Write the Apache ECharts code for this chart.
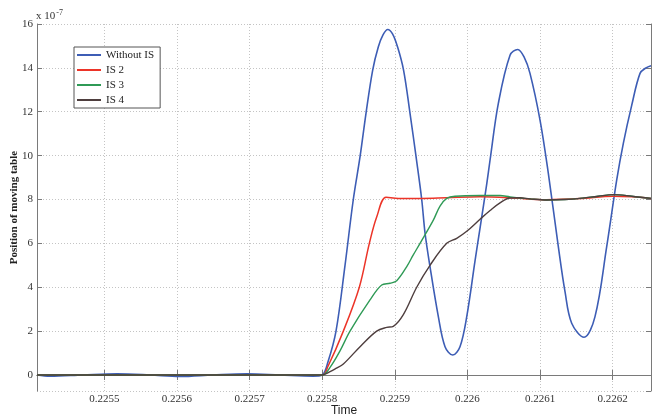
<!DOCTYPE html>
<html>
<head>
<meta charset="utf-8">
<script src="https://cdn.jsdelivr.net/npm/echarts@6/dist/echarts.min.js"></script>
<style>
html,body{margin:0;padding:0;background:#fff;}
#c{width:662px;height:418px;}
</style>
</head>
<body>
<div id="c"></div>
<script>
// Time axis range and values (position in units of 1e-7)
const xMin = 0.2254073, xMax = 0.2262527;
const yMin = -0.73, yMax = 16;
const seriesNames = ['Without IS', 'IS 2', 'IS 3', 'IS 4'];

const blueTime = [0.2254073,0.2254252,0.2254707,0.2255175,0.2255629,0.2256042,0.2256497,0.2256965,0.2257419,0.2257874,0.2258,
  0.225808,0.2258190,0.2258314,0.2258428,0.2258521,0.2258603,0.2258695,0.2258773,0.2258837,0.2258902,0.2258968,0.2259037,
  0.2259120,0.2259209,0.2259292,0.2259370,0.2259416,0.2259484,0.2259599,0.2259691,0.2259797,0.2259897,0.2259990,0.2260104,
  0.2260173,0.2260265,0.2260311,0.2260425,0.2260586,0.2260692,0.2260779,0.2260861,0.2260999,0.2261113,0.2261251,0.2261343,
  0.2261435,0.2261605,0.2261756,0.2261917,0.2262055,0.2262146,0.2262262,0.2262376,0.2262458,0.2262527];
const blueValue = [0,-0.06,0,0.05,0,-0.07,0,0.05,0,-0.05,0,
  0.6,2.0,5.0,8.0,9.95,11.93,13.9,14.96,15.5,15.75,15.55,14.96,
  13.9,11.93,9.95,8.0,6.46,4.94,2.66,1.29,0.91,1.29,2.66,5.2,
  6.7,8.7,9.8,12.38,14.58,14.84,14.5,13.75,11.62,9.2,5.85,3.8,
  2.36,1.72,2.66,5.85,8.89,10.56,12.3,13.75,14.0,14.1];

const redTime = [0.2254073,0.2258,0.225808,0.2258291,0.2258511,0.2258649,0.2258750,0.2258879,0.2259048,0.2259370,0.2259714,
  0.2260173,0.2260586,0.2261091,0.2261549,0.2262008,0.2262262,0.2262527];
const redValue = [0,0,0.4,2.0,4.0,6.0,7.2,8.1,8.05,8.05,8.08,
  8.12,8.08,7.99,8.04,8.15,8.12,8.05];

const greenTime = [0.2254073,0.2258,0.2258108,0.2258245,0.2258383,0.2258658,0.2258819,0.2258934,0.2259026,0.2259164,0.2259250,
  0.2259347,0.2259530,0.2259622,0.2259714,0.2259829,0.2260173,0.2260448,0.2260586,0.2260861,0.2261091,0.2261343,0.2261549,
  0.2261800,0.2262008,0.2262262,0.2262527];
const greenValue = [0,0,0.35,1.1,2.0,3.42,4.1,4.18,4.3,4.94,5.45,
  6.0,7.06,7.7,8.05,8.15,8.18,8.18,8.12,8.03,7.98,8.0,8.05,
  8.15,8.22,8.15,8.05];

const blackTime = [0.2254073,0.2258,0.2258108,0.2258190,0.2258291,0.2258521,0.2258750,0.2258888,0.2258979,0.2259117,0.2259301,
  0.2259484,0.2259714,0.2259852,0.2259990,0.2260173,0.2260311,0.2260448,0.2260586,0.2260724,0.2260861,0.2261091,0.2261343,
  0.2261549,0.2261800,0.2262008,0.2262262,0.2262527];
const blackValue = [0,0,0.15,0.3,0.5,1.29,2.0,2.17,2.22,2.75,4.0,
  5.0,6.0,6.23,6.55,7.1,7.5,7.85,8.07,8.08,8.03,7.98,8.0,
  8.05,8.15,8.22,8.15,8.05];

const zip = (t, v) => t.map((x, i) => [x, v[i]]);
const serif = '"Liberation Serif","DejaVu Serif",serif';
const sans = '"Liberation Sans",Arial,sans-serif';
const frame = '#7a7a7a';
const gridLine = {show: true, lineStyle: {color: '#c4c4c4', type: [1, 2], width: 1}};

const chart = echarts.init(document.getElementById('c'), null, {renderer: 'canvas'});
const baseX = {type: 'value', min: xMin, max: xMax, splitNumber: 8};
const baseY = {type: 'value', min: yMin, max: yMax, splitNumber: 8};
const lineSeries = (name, t, v, color, w) => ({
  name, type: 'line', data: zip(t, v), showSymbol: false, smooth: 0.35,
  color, lineStyle: {width: w, color}
});
chart.setOption({
  animation: false,
  backgroundColor: '#fff',
  grid: {left: 37, right: 11, top: 24, bottom: 27, containLabel: false, outerBoundsMode: 'none'},
  legend: {
    data: seriesNames, orient: 'vertical', left: 74, top: 47,
    icon: 'rect', itemWidth: 24, itemHeight: 2, itemGap: 3,
    padding: [2, 6, 2, 3], borderColor: '#555', borderWidth: 1, backgroundColor: '#fff',
    textStyle: {fontFamily: serif, fontSize: 11, color: '#222', lineHeight: 12}
  },
  graphic: [{
    type: 'text', left: 36, top: 9,
    style: {text: 'x 10{s|-7}', fontFamily: serif, fontSize: 11, fill: '#333',
      rich: {s: {fontSize: 8, verticalAlign: 'top', padding: [0, 0, 7, 1], fontFamily: serif, fill: '#333'}}}
  }],
  xAxis: [Object.assign({}, baseX, {
    position: 'bottom',
    name: 'Time', nameLocation: 'middle', nameGap: 14, nameMoveOverlap: false,
    nameTextStyle: {fontFamily: sans, fontSize: 12, color: '#222'},
    axisLine: {show: true, lineStyle: {color: frame, width: 1}},
    axisTick: {show: true, inside: true, length: 5, lineStyle: {color: frame}},
    axisLabel: {fontFamily: serif, fontSize: 11, color: '#333', margin: 3, showMinLabel: false, showMaxLabel: false,
      formatter: v => Math.abs(v * 10000 - Math.round(v * 10000)) > 1e-4 ? '' : String(Math.round(v * 10000) / 10000)},
    splitLine: gridLine
  }), Object.assign({}, baseX, {
    position: 'top',
    axisLine: {show: true, lineStyle: {color: frame, width: 1}},
    axisTick: {show: true, inside: true, length: 5, lineStyle: {color: frame}},
    axisLabel: {show: false}, splitLine: {show: false}
  })],
  yAxis: [Object.assign({}, baseY, {
    position: 'left',
    name: 'Position of moving table', nameLocation: 'middle', nameGap: 17, nameRotate: 90, nameMoveOverlap: false,
    nameTextStyle: {fontFamily: serif, fontSize: 11, fontWeight: 'bold', color: '#222'},
    axisLine: {show: true, lineStyle: {color: frame, width: 1}},
    axisTick: {show: true, inside: true, length: 5, lineStyle: {color: frame}},
    axisLabel: {fontFamily: serif, fontSize: 11, color: '#333', margin: 4, showMinLabel: false,
      formatter: v => v < -0.01 ? '' : String(Math.round(v))},
    splitLine: gridLine
  }), Object.assign({}, baseY, {
    position: 'right',
    axisLine: {show: true, lineStyle: {color: frame, width: 1}},
    axisTick: {show: true, inside: true, length: 5, lineStyle: {color: frame}},
    axisLabel: {show: false}, splitLine: {show: false}
  })],
  series: [
    lineSeries(seriesNames[0], blueTime, blueValue, '#3d5db5', 1.6),
    lineSeries(seriesNames[1], redTime, redValue, '#ec3428', 1.5),
    lineSeries(seriesNames[2], greenTime, greenValue, '#2f9a56', 1.4),
    lineSeries(seriesNames[3], blackTime, blackValue, '#4e3e3e', 1.4)
  ]
});
</script>
</body>
</html>
